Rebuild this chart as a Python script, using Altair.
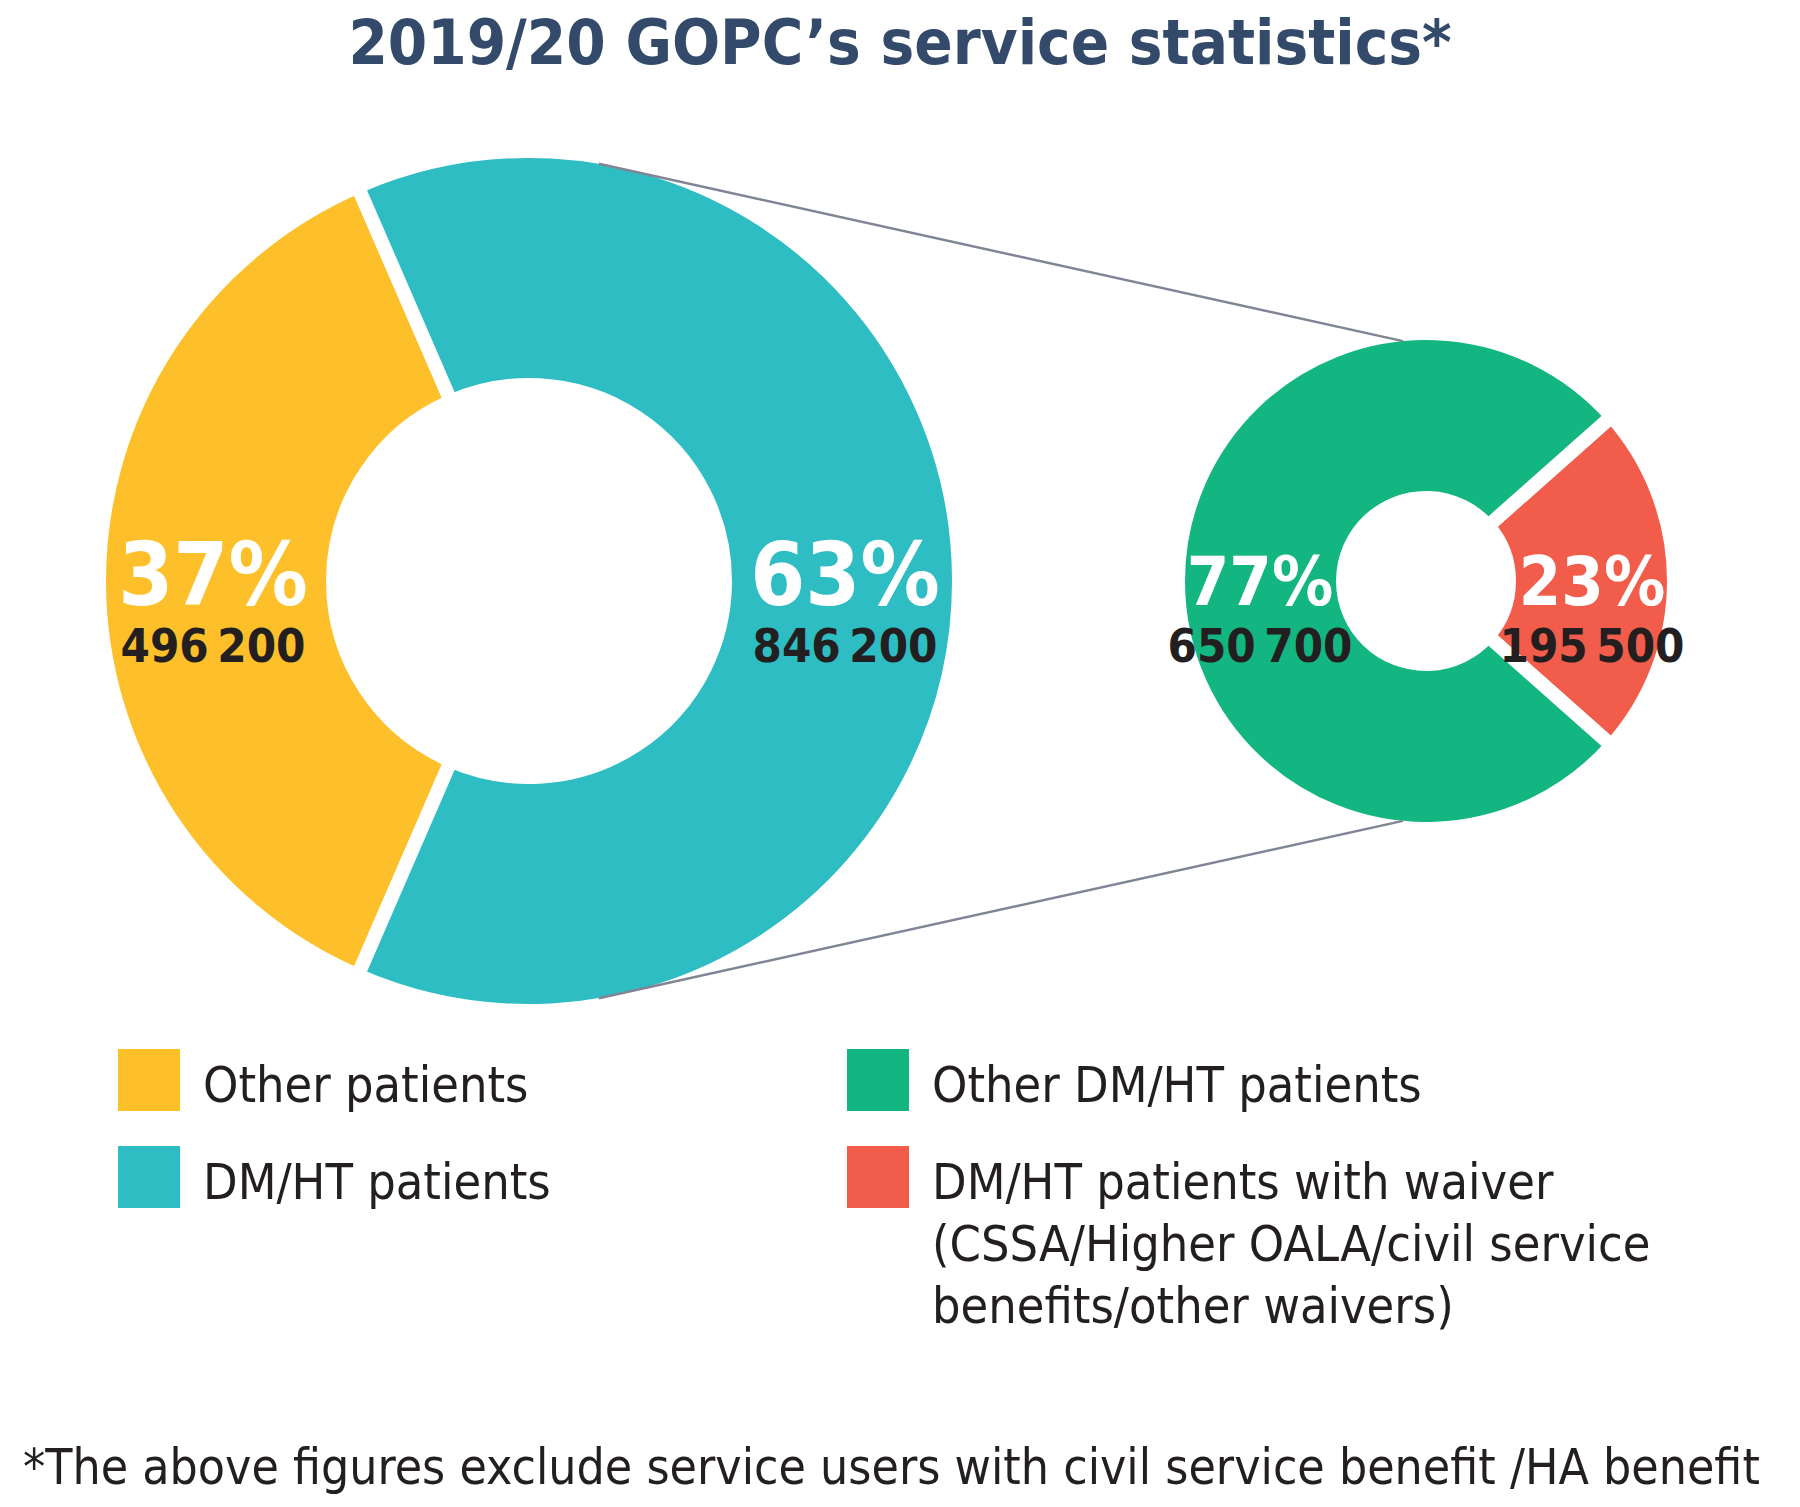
import math
import altair as alt
import pandas as pd

# ---------------- data ----------------
title_text = "2019/20 GOPC\u2019s service statistics*"
footnote_text = "*The above figures exclude service users with civil service benefit /HA benefit"

big_categories = ["Other patients", "DM/HT patients"]
big_values = [496200, 846200]
big_colors = ["#FEC02A", "#2EBDC3"]

small_categories = ["DM/HT patients with waiver", "Other DM/HT patients"]
small_values = [195500, 650700]
small_colors = ["#F15D4A", "#13B680"]

legend_order = ["Other patients", "DM/HT patients", "Other DM/HT patients", "DM/HT patients with waiver"]
legend_labels = [
    "Other patients",
    "DM/HT patients",
    "Other DM/HT patients",
    "DM/HT patients with waiver\n(CSSA/Higher OALA/civil service\nbenefits/other waivers)",
]

# ---------------- styling / layout ----------------
FONT = "Liberation Sans Narrow, DejaVu Sans Condensed, Roboto, sans-serif"
TITLE_COLOR = "#344A6B"
DARK = "#231F20"
LINE_GRAY = "#7F8595"
W, H = 1784, 1491

BIG_C = (521, 573)
SMALL_C = (1418, 573)
GAP = 14
BIG_VIS = (203, 423)     # visible inner/outer radius
SMALL_VIS = (90, 241)
BIG_R = (BIG_VIS[0] - GAP / 2, BIG_VIS[1] + GAP / 2)
SMALL_R = (SMALL_VIS[0] - GAP / 2, SMALL_VIS[1] + GAP / 2)

all_cats = big_categories + small_categories
all_colors = big_colors + small_colors
color_scale = alt.Scale(domain=all_cats, range=all_colors)


def fmt_num(v):
    return f"{v:,}".replace(",", "\u2009")


def donut_df(cats, vals):
    tot = sum(vals)
    return pd.DataFrame({
        "category": cats,
        "value": vals,
        "idx": list(range(len(cats))),
        "pct": [f"{round(v / tot * 100)}%" for v in vals],
        "num": [fmt_num(v) for v in vals],
    })


def donut(cats, vals, center, radii, first_center_deg, text_r, pct_size, num_size):
    df = donut_df(cats, vals)
    share0 = vals[0] / sum(vals)
    start = math.radians(first_center_deg - share0 * 180)
    theta_scale = alt.Scale(range=[start, start + 2 * math.pi])
    theta = alt.Theta("value:Q", stack=True, scale=theta_scale)
    base = alt.Chart(df).encode(
        theta=theta,
        order=alt.Order("idx:Q"),
        x=alt.value(center[0]),
        y=alt.value(center[1]),
    )
    arcs = base.mark_arc(
        innerRadius=radii[0], outerRadius=radii[1], stroke="white", strokeWidth=GAP
    ).encode(color=alt.Color("category:N", scale=color_scale, legend=None))
    pct = base.mark_text(
        font=FONT, fontWeight="bold", fontSize=pct_size, color="white",
        align="center", baseline="alphabetic", dy=24,
    ).encode(radius=alt.value(text_r), text="pct:N")
    num = base.mark_text(
        font=FONT, fontWeight="bold", fontSize=num_size, color=DARK,
        align="center", baseline="alphabetic", dy=81,
    ).encode(radius=alt.value(text_r), text="num:N")
    return alt.layer(arcs, pct, num)


big = donut(big_categories, big_values, BIG_C, BIG_R, 270, 316, 88, 47)
small = donut(small_categories, small_values, SMALL_C, SMALL_R, 90, 166, 68, 47)

# connector lines, derived from the two circles' geometry
big_ang = math.radians(9.5)
small_ang = math.radians(-5.5)
conn = pd.DataFrame({
    "x": [BIG_C[0] + BIG_VIS[1] * math.sin(big_ang)] * 2,
    "y": [BIG_C[1] - BIG_VIS[1] * math.cos(big_ang), BIG_C[1] + BIG_VIS[1] * math.cos(big_ang)],
    "x2": [SMALL_C[0] + SMALL_VIS[1] * math.sin(small_ang)] * 2,
    "y2": [SMALL_C[1] - SMALL_VIS[1] * math.cos(small_ang), SMALL_C[1] + SMALL_VIS[1] * math.cos(small_ang)],
})
lines = alt.Chart(conn).mark_rule(color=LINE_GRAY, strokeWidth=2.5).encode(
    x=alt.X("x:Q", scale=None), y=alt.Y("y:Q", scale=None),
    x2="x2:Q", y2="y2:Q",
)

# legend (two columns, built from the category list)
LX0, LY0, COL_STEP, ROW_STEP, SQ = 141, 1072, 729, 97, 62
leg = pd.DataFrame({
    "category": legend_order,
    "label": legend_labels,
})
leg["col"] = [i // 2 for i in range(len(leg))]
leg["row"] = [i % 2 for i in range(len(leg))]
leg["lx"] = LX0 + leg["col"] * COL_STEP
leg["ly"] = LY0 + leg["row"] * ROW_STEP
leg["tx"] = leg["lx"] + SQ / 2 + 23
leg["ty"] = leg["ly"] + 22

leg_sq = alt.Chart(leg).mark_square(size=SQ * SQ, opacity=1, strokeWidth=0).encode(
    x=alt.X("lx:Q", scale=None), y=alt.Y("ly:Q", scale=None),
    color=alt.Color("category:N", scale=color_scale, legend=None),
)
leg_txt = alt.Chart(leg).mark_text(
    font=FONT, fontSize=50, color=DARK, align="left", baseline="alphabetic",
    lineBreak="\n", lineHeight=62,
).encode(
    x=alt.X("tx:Q", scale=None), y=alt.Y("ty:Q", scale=None), text="label:N",
)

title = alt.Chart(pd.DataFrame({"t": [title_text]})).mark_text(
    font=FONT, fontSize=63, fontWeight="bold", color=TITLE_COLOR,
    align="center", baseline="alphabetic",
).encode(x=alt.value(W / 2), y=alt.value(56), text="t:N")

foot = alt.Chart(pd.DataFrame({"t": [footnote_text]})).mark_text(
    font=FONT, fontSize=49.5, color=DARK, align="left", baseline="alphabetic",
).encode(x=alt.value(15), y=alt.value(1476), text="t:N")

chart = alt.layer(big, small, lines, leg_sq, leg_txt, title, foot).resolve_scale(
    theta="independent"
).properties(
    width=W, height=H,
    autosize=alt.AutoSizeParams(type="none"),
    padding=0,
).configure_view(stroke=None)

chart.save("out.html", embed_options={"renderer": "svg", "actions": False})
